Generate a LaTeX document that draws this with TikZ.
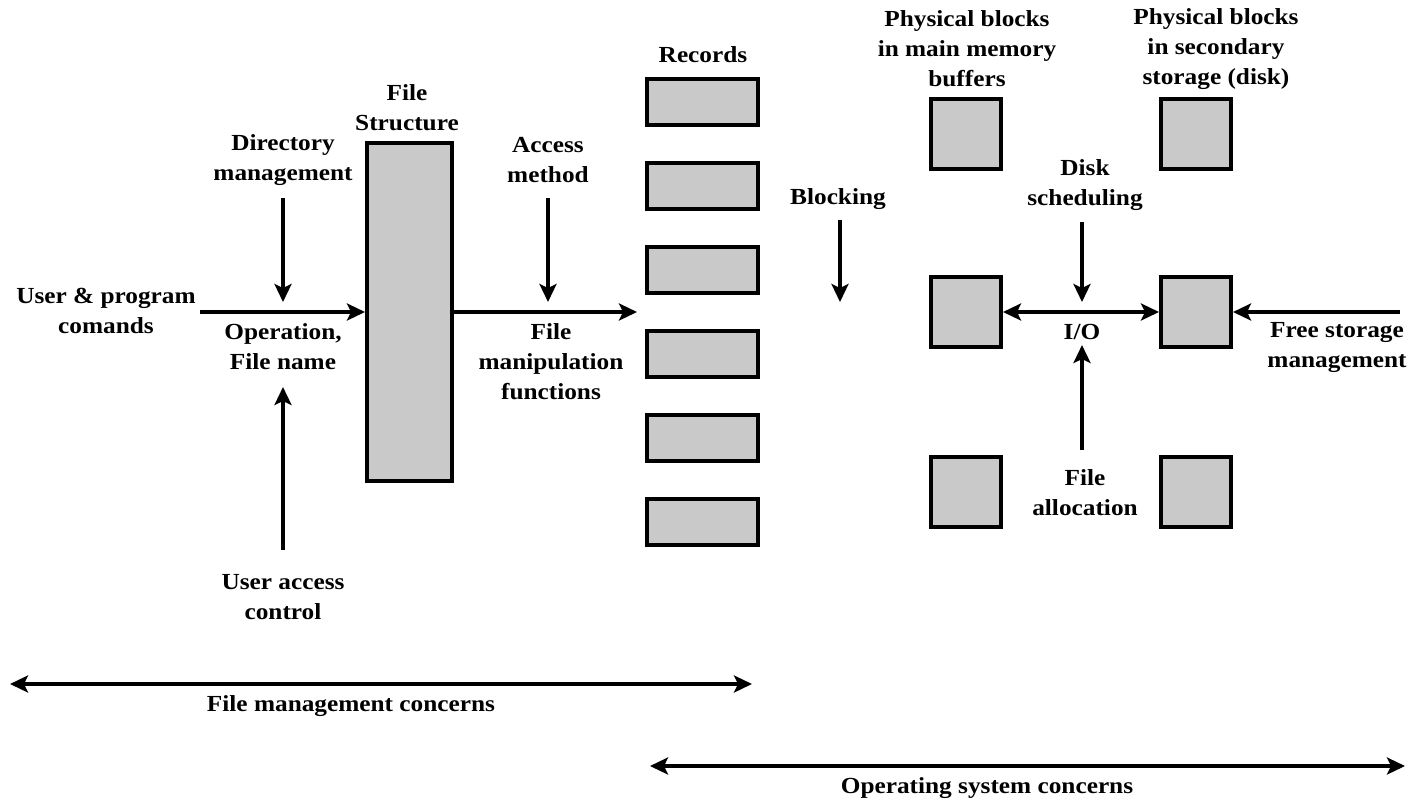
\documentclass[tikz,border=0pt]{standalone}
\usepackage{fontspec}
\setmainfont[FakeStretch=1.1]{Liberation Serif}
\usetikzlibrary{arrows.meta}
\begin{document}
\begin{tikzpicture}[x=1pt,y=-1pt,
  lbl/.style={align=center,inner sep=0pt,font=\fontsize{23}{30}\selectfont\bfseries},
  rec/.style={draw=black,line width=4pt,fill=gray!42,minimum width=111pt,minimum height=46pt,inner sep=0pt},
  sq/.style={draw=black,line width=4pt,fill=gray!42,minimum width=70pt,minimum height=70pt,inner sep=0pt},
  bigbox/.style={draw=black,line width=4pt,fill=gray!42,minimum width=85pt,minimum height=338pt,inner sep=0pt},
  arr/.style={line width=3.5pt,-{Stealth[length=18pt,width=17pt,inset=4pt]}},
  darr/.style={line width=3.5pt,{Stealth[length=18pt,width=17pt,inset=4pt]}-{Stealth[length=18pt,width=17pt,inset=4pt]}}]
\useasboundingbox (0,0) rectangle (1409,804);
% File structure box
\node[bigbox] (fs) at (409.5,312) {};
% records
\foreach \i/\y in {1/102,2/186,3/270,4/354,5/438,6/522}
  \node[rec] (r\i) at (702.5,\y) {};
% squares
\node[sq] (mm1) at (966,134) {};
\node[sq] (sd1) at (1196,134) {};
\node[sq] (mm2) at (966,312) {};
\node[sq] (sd2) at (1196,312) {};
\node[sq] (mm3) at (966,492) {};
\node[sq] (sd3) at (1196,492) {};
% labels
\node[lbl] (uc) at (106,311) {User \& program\\comands};
\node[lbl] (dir) at (283,160) {Directory\\management};
\node[lbl] (op) at (283,347) {Operation,\\File name};
\node[lbl] (uac) at (283,597) {User access\\control};
\node[lbl] (fst) at (407,108) {File\\Structure};
\node[lbl] (am) at (548,160) {Access\\method};
\node[lbl] (fmf) at (551,362) {File\\manipulation\\functions};
\node[lbl] (recl) at (703,55) {Records};
\node[lbl] (blk) at (838,199) {Blocking};
\node[lbl] (pmm) at (967,49) {Physical blocks\\in main memory\\buffers};
\node[lbl] (psd) at (1216,49) {Physical blocks\\in secondary\\storage (disk)};
\node[lbl] (ds) at (1085,185) {Disk\\scheduling};
\node[lbl] (io) at (1082,332) {I/O};
\node[lbl] (fa) at (1085,493) {File\\allocation};
\node[lbl] (fsm) at (1337,347) {Free storage\\management};
\node[lbl] (fmc) at (351,706) {File management concerns};
\node[lbl] (osc) at (987,788) {Operating system concerns};
% coordinates
\coordinate (ucE) at (200,312);
\coordinate (dirS) at (283,198);
\coordinate (dirT) at (283,302);
\coordinate (uacN) at (283,550);
\coordinate (uacT) at (283,387);
\coordinate (fsOut) at (637,312);
\coordinate (amS) at (548,198);
\coordinate (amT) at (548,302);
\coordinate (blkS) at (840,220);
\coordinate (blkT) at (840,302);
\coordinate (dsS) at (1082,222);
\coordinate (dsT) at (1082,302);
\coordinate (faN) at (1082,450);
\coordinate (faT) at (1082,345);
\coordinate (fsmE) at (1400,312);
\coordinate (fmcL) at (10,684);
\coordinate (fmcR) at (752,684);
\coordinate (oscL) at (650,766);
\coordinate (oscR) at (1405,766);
% arrows
\draw[arr] (ucE) -- (fs.west);
\draw[arr] (dirS) -- (dirT);
\draw[arr] (uacN) -- (uacT);
\draw[arr] (fs.east) -- (fsOut);
\draw[arr] (amS) -- (amT);
\draw[arr] (blkS) -- (blkT);
\draw[arr] (dsS) -- (dsT);
\draw[arr] (faN) -- (faT);
\draw[darr] (mm2.east) -- (sd2.west);
\draw[arr] (fsmE) -- (sd2.east);
\draw[darr] (fmcL) -- (fmcR);
\draw[darr] (oscL) -- (oscR);
\end{tikzpicture}
\end{document}
